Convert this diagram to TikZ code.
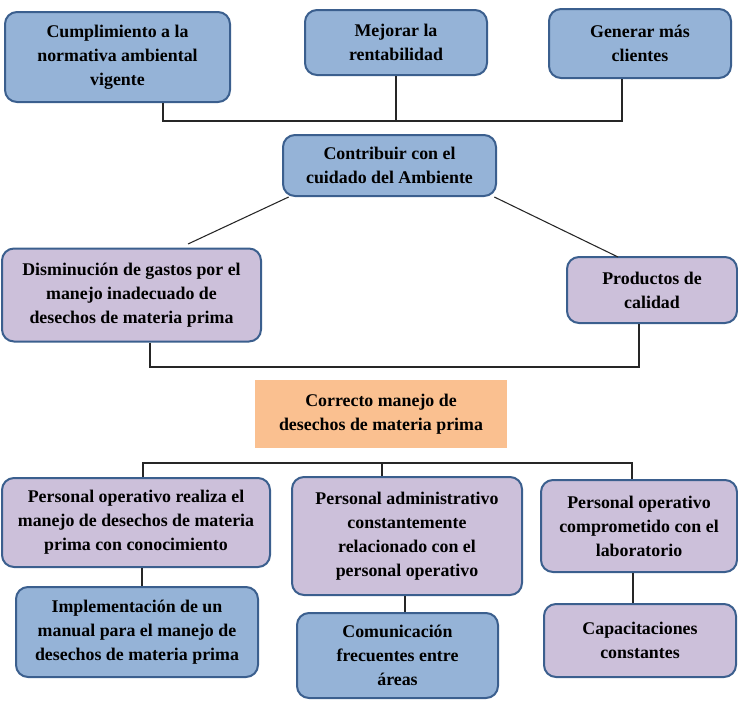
\documentclass[tikz,border=0pt]{standalone}
\usepackage{fontspec}
\setmainfont{Liberation Serif}
\definecolor{boxblue}{HTML}{95B3D7}
\definecolor{boxlilac}{HTML}{CCC0DA}
\definecolor{boxorange}{HTML}{FAC090}
\definecolor{boxedge}{HTML}{3B5F8E}
\tikzset{
  treebox/.style={draw=boxedge, line width=1.5pt, rounded corners=9pt, align=center,
    font=\fontsize{13.4}{18}\selectfont\bfseries, inner sep=0pt},
  bluebox/.style={treebox, fill=boxblue},
  lilacbox/.style={treebox, fill=boxlilac},
  link/.style={draw=black!85, line width=0.8pt}
}
\begin{document}
\begin{tikzpicture}[x=0.75pt,y=-0.75pt]
\useasboundingbox (0,0) rectangle (738,700);

% fines
\node[bluebox, minimum width=168.75pt, minimum height=67.5pt] (cumpl) at (117.5,57) {Cumplimiento a la\\normativa ambiental\\vigente};
\node[bluebox, minimum width=136.5pt, minimum height=48.75pt] (mejorar) at (396,42.5) {Mejorar la\\rentabilidad};
\node[bluebox, minimum width=136.5pt, minimum height=51.75pt] (generar) at (640,43.5) {Generar más\\clientes};

\node[bluebox, minimum width=159.75pt, minimum height=45.75pt] (contrib) at (389.5,165.5) {Contribuir con el\\cuidado del Ambiente};

\node[lilacbox, minimum width=194.25pt, minimum height=69.75pt] (dismin) at (131.5,295) {Disminución de gastos por el\\manejo inadecuado de\\desechos de materia prima};
\node[lilacbox, minimum width=127.5pt, minimum height=49.5pt] (product) at (652,290) {Productos de\\calidad};

% objetivo central
\node[fill=boxorange, align=center, font=\fontsize{13.4}{18}\selectfont\bfseries,
  minimum width=189pt, minimum height=51pt] (correcto) at (381,414) {Correcto manejo de\\desechos de materia prima};

% medios
\node[lilacbox, minimum width=201pt, minimum height=66.75pt] (po1) at (136,522.5) {Personal operativo realiza el\\manejo de desechos de materia\\prima con conocimiento};
\node[lilacbox, minimum width=172.5pt, minimum height=88.5pt] (padmin) at (407,536) {Personal administrativo\\constantemente\\relacionado con el\\personal operativo};
\node[lilacbox, minimum width=147pt, minimum height=69pt] (po2) at (639,526) {Personal operativo\\comprometido con el\\laboratorio};

\node[bluebox, minimum width=181.5pt, minimum height=67.5pt] (implem) at (137,632) {Implementación de un\\manual para el manejo de\\desechos de materia prima};
\node[bluebox, minimum width=150.75pt, minimum height=63.75pt] (comunic) at (397.5,655.5) {Comunicación\\frecuentes entre\\áreas};
\node[lilacbox, minimum width=144pt, minimum height=54.75pt] (capac) at (640,640.5) {Capacitaciones\\constantes};

% puntos de las lineas
\coordinate (topL) at (163,121);
\coordinate (topR) at (622,121);
\coordinate (dimL) at (188,244);
\coordinate (proL) at (618,257);
\coordinate (midL) at (150,367);
\coordinate (midR) at (639,367);
\coordinate (botL) at (143,463);
\coordinate (botM) at (382,463);
\coordinate (botR) at (632,463);
\coordinate (po1X) at (142,0);
\coordinate (padX) at (405,0);
\coordinate (po2X) at (633,0);

\draw[link] (cumpl.south -| topL) -- (topL) -- (topR) -- (generar.south -| topR);
\draw[link] (mejorar.south) -- (mejorar.south |- topL);

\draw[link] ([xshift=5pt]contrib.south west) -- (dimL);
\draw[link] ([xshift=-2pt]contrib.south east) -- (proL);

\draw[link] (dismin.south -| midL) -- (midL) -- (midR) -- (product.south -| midR);

\draw[link] (po1.north -| botL) -- (botL) -- (botR) -- (po2.north -| botR);
\draw[link] (botM) -- (padmin.north -| botM);

\draw[link] (po1.south -| po1X) -- (implem.north -| po1X);
\draw[link] (padmin.south -| padX) -- (comunic.north -| padX);
\draw[link] (po2.south -| po2X) -- (capac.north -| po2X);
\end{tikzpicture}
\end{document}
